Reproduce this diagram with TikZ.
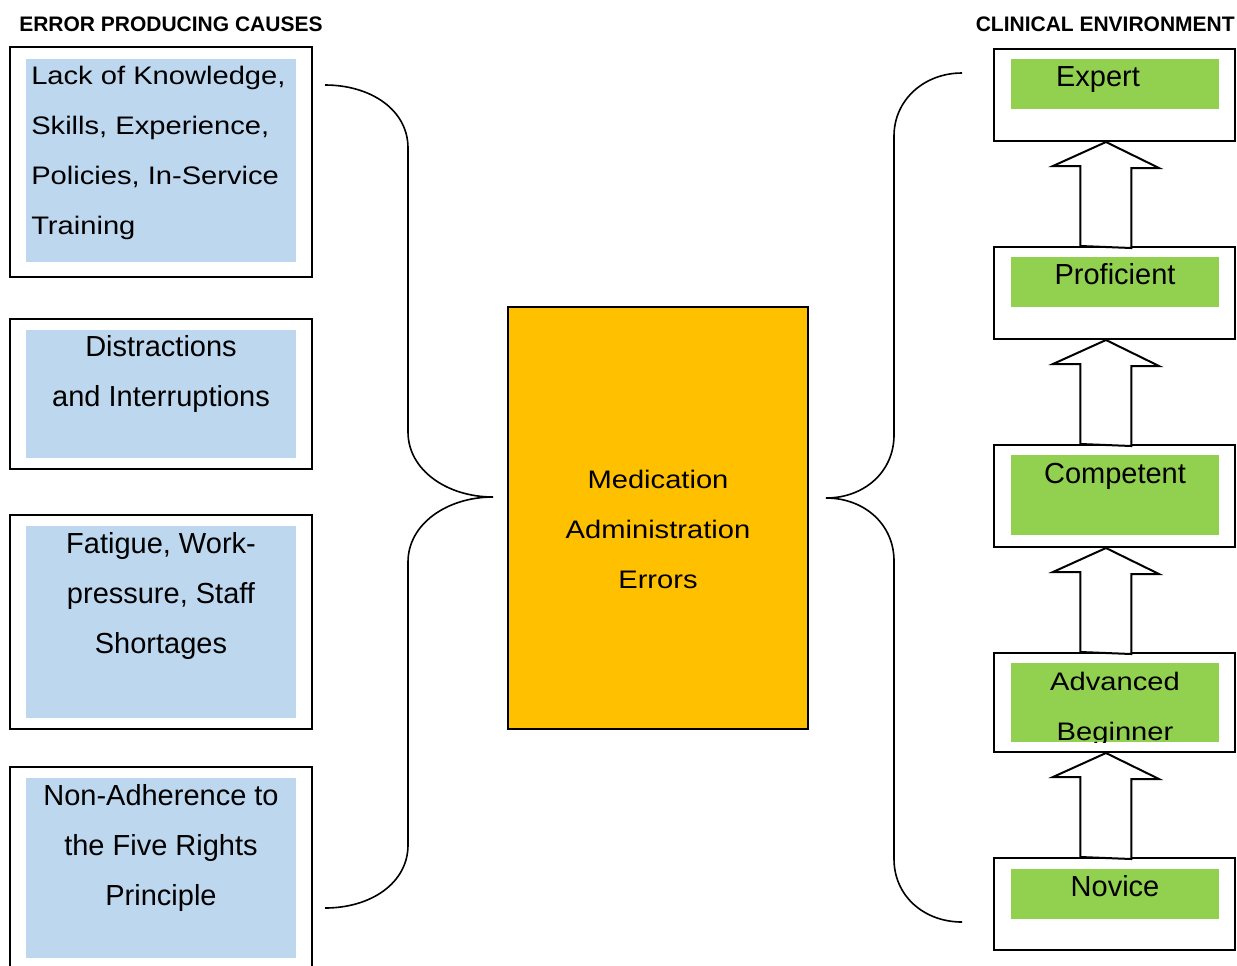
\documentclass[tikz,border=0pt]{standalone}
\usepackage{fontspec}
\setmainfont{Liberation Sans}
\newfontfamily\widesans[FakeStretch=1.15]{Liberation Sans}

\definecolor{causeblue}{HTML}{BDD7EE}
\definecolor{stagegreen}{HTML}{92D050}
\definecolor{errorgold}{HTML}{FFC000}

\tikzset{
  boxline/.style={draw=black, line width=1.5pt},
  heading/.style={font=\fontsize{15.75}{18}\selectfont\bfseries, inner sep=0},
  causetext/.style={font=\fontsize{21.75}{37.5}\selectfont, inner sep=0, align=center, anchor=base},
  widetext/.style={font=\widesans\fontsize{19}{37.5}\selectfont, inner sep=0, align=center, anchor=base},
  stagebox/.style={boxline, fill=white, minimum width=180.75pt, inner sep=0},
  bracket/.style={line width=1.2pt},
  uparrow/.style={draw=black, line width=1.5pt, fill=white, line join=miter},
}

\begin{document}
\begin{tikzpicture}[x=0.75pt,y=0.75pt,yscale=-1,xscale=1]
\useasboundingbox (0,0) rectangle (1237,965);

% Headings
\node[heading, anchor=base west] (causeshead) at (19,31.5) {ERROR PRODUCING CAUSES};
\node[heading, anchor=base east] (envhead) at (1235,31) {CLINICAL ENVIRONMENT};

% Causes on the left (multi-line texts sit on the baseline of their last line)
\draw[boxline] (10,47) rectangle (312,277);
\fill[causeblue] (26,59) rectangle (296,262);
\draw[boxline] (10,319) rectangle (312,469);
\fill[causeblue] (26,330) rectangle (296,458);
\draw[boxline] (10,515) rectangle (312,729);
\fill[causeblue] (26,526) rectangle (296,718);
\draw[boxline] (10,975) |- (312,767) -- (312,975);
\fill[causeblue] (26,778) rectangle (296,958);

\node[widetext, align=left, anchor=base west] (knowledge) at (31,234.3) {Lack of Knowledge,\\Skills, Experience,\\Policies, In-Service\\Training};
\node[causetext] (distraction) at (161,406.5) {Distractions\\and Interruptions};
\node[causetext] (fatigue) at (161,653) {Fatigue, Work-\\pressure, Staff\\Shortages};
\node[causetext] (fiverights) at (161,905) {Non-Adherence to\\the Five Rights\\Principle};

% Central box
\node[boxline, fill=errorgold, minimum width=225pt, minimum height=316.5pt] (errors) at (658,518) {};
\node[widetext] (errorslbl) at (658,588.3) {Medication\\Administration\\Errors};

% Braces
\draw[bracket] (325,85) .. controls (371,85) and (408,110) .. (408,148) -- (408,432)
  .. controls (408,470) and (447,497) .. (493,497)
  .. controls (447,497) and (408,524) .. (408,562) -- (408,845)
  .. controls (408,883) and (371,908) .. (325,908);
\draw[bracket] (962,73) .. controls (924,73) and (894,100) .. (894,136) -- (894,435)
  .. controls (894,472) and (864,498) .. (826,498)
  .. controls (864,498) and (894,524) .. (894,561) -- (894,859)
  .. controls (894,896) and (924,922) .. (962,922);

% Stages on the right
\node[stagebox, minimum height=69pt] (expert) at (1114.5,95) {};
\node[stagebox, minimum height=69pt] (proficient) at (1114.5,293) {};
\node[stagebox, minimum height=76.5pt] (competent) at (1114.5,496) {};
\node[stagebox, minimum height=74.25pt] (advanced) at (1114.5,702.5) {};
\node[stagebox, minimum height=69pt] (novice) at (1114.5,904) {};

\fill[stagegreen] (1011,59) rectangle (1219,109);
\fill[stagegreen] (1011,257) rectangle (1219,307);
\fill[stagegreen] (1011,455) rectangle (1219,535);
\fill[stagegreen] (1011,663) rectangle (1219,742);
\fill[stagegreen] (1011,869) rectangle (1219,919);

\node[causetext] (expertlbl) at (1098,86.7) {Expert};
\node[causetext] (proficientlbl) at (1115,284.7) {Proficient};
\node[causetext] (competentlbl) at (1115,483.3) {Competent};
\begin{scope}
  \clip (1011,663) rectangle (1219,742);
  \node[widetext] (advancedlbl) at (1115,740) {Advanced\\Beginner};
\end{scope}
\node[causetext] (novicelbl) at (1115,896.7) {Novice};

% Block arrows between stages
\foreach \lower/\upper in {proficient/expert, competent/proficient, advanced/competent, novice/advanced}
  \draw[uparrow] ([xshift=-6.4pt]\lower.north) ++(-25.5,0) -- ++(0,-80) -- ++(-27.5,0)
    -- ([xshift=-6.4pt]\upper.south) -- ++(53,26) -- ++(-27.5,0) -- ++(0,80) -- cycle;

\end{tikzpicture}
\end{document}
